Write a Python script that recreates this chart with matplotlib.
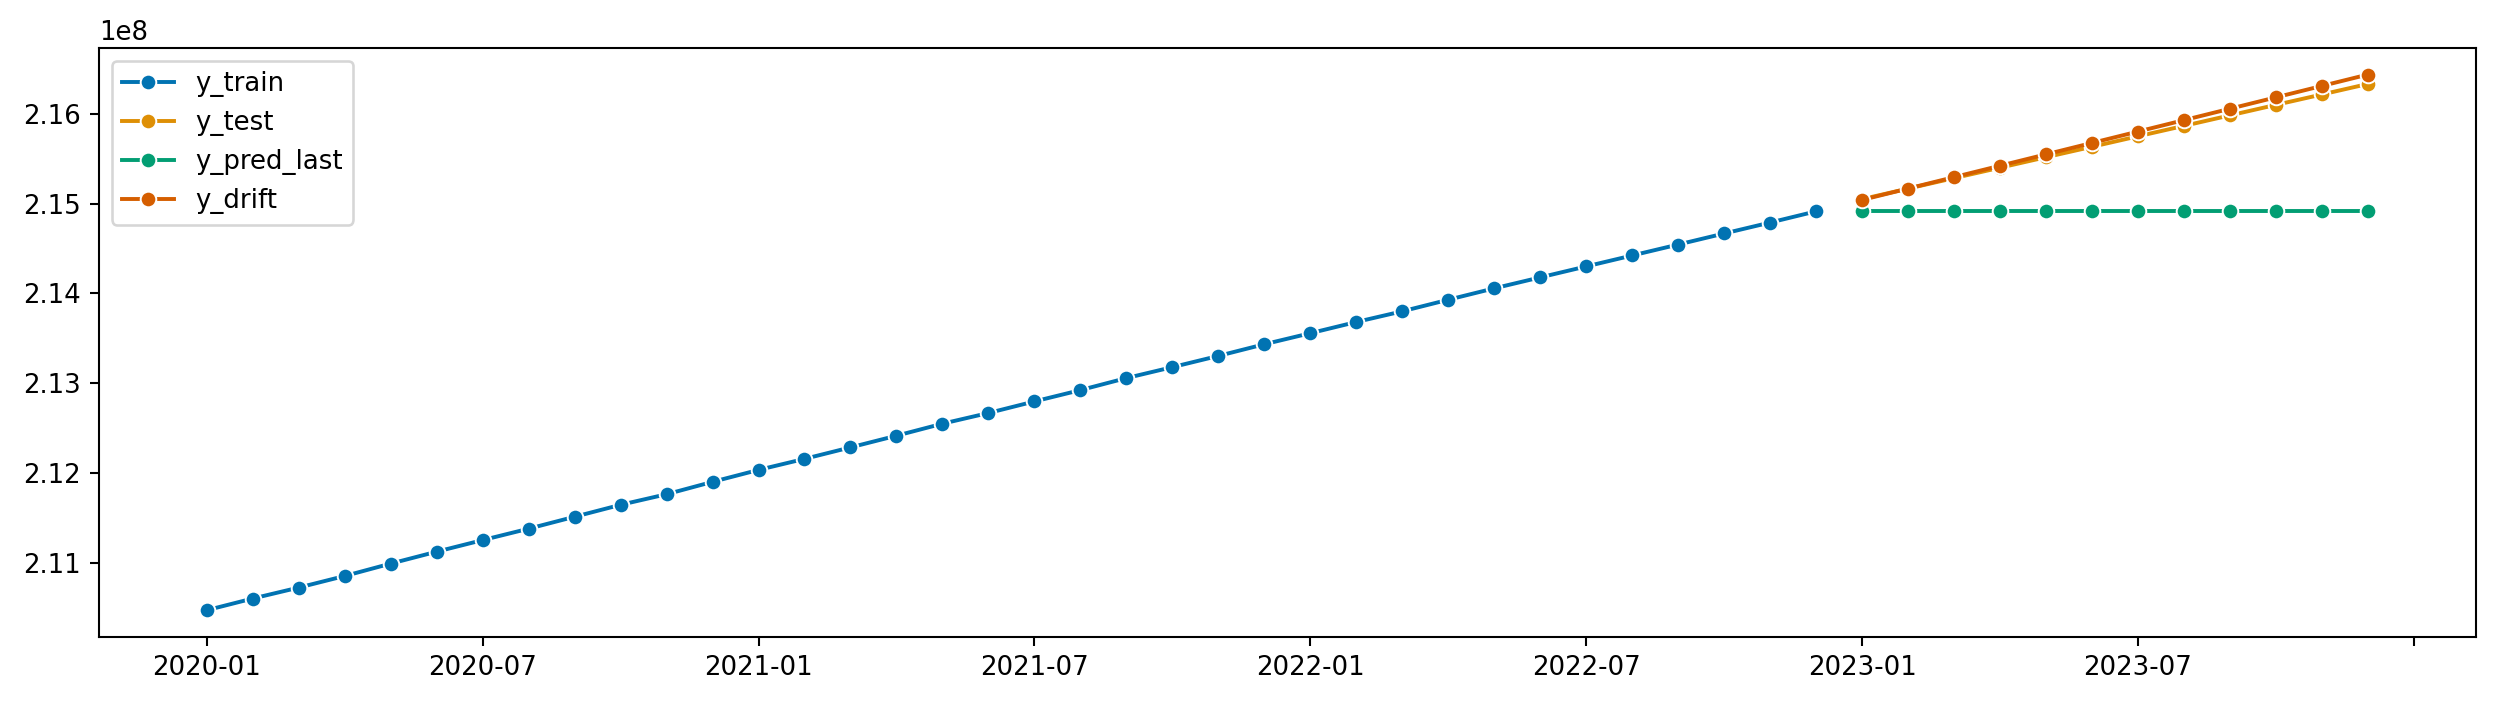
import numpy as np
import pandas as pd
import matplotlib
matplotlib.use("Agg")
import matplotlib.pyplot as plt
from matplotlib.ticker import FuncFormatter, MultipleLocator

# --------------------------
# DATA
# --------------------------
periods = pd.period_range("2020-01", periods=48, freq="M").astype(str).tolist()

y_train = [210470000, 210600000, 210722000, 210851000, 210989000, 211122000,
           211251000, 211378000, 211511000, 211644000, 211762000, 211900000,
           212033000, 212156000, 212284000, 212414000, 212548000, 212667000,
           212796000, 212922000, 213056000, 213178000, 213303000, 213433000,
           213556000, 213681000, 213800000, 213929000, 214056000, 214178000,
           214300000, 214422000, 214544000, 214667000, 214789000, 214914000]

y_test = [215050000, 215167000, 215284000, 215400000, 215517000, 215633000,
          215750000, 215866000, 215983000, 216100000, 216216000, 216333000]

y_pred_last = [214914000] * 12

y_drift = [215041000, 215168000, 215295000, 215422000, 215549000, 215676000,
           215803000, 215930000, 216057000, 216184000, 216311000, 216438000]

# --------------------------
# PLOT
# --------------------------
DPI = 187.2
colors = ["#0173b2", "#de8f05", "#029e73", "#d55e00"]
n_train = len(y_train)
x_train = np.arange(n_train)
x_test = np.arange(n_train, n_train + len(y_test))

series = [
    (x_train, y_train, "y_train"),
    (x_test, y_test, "y_test"),
    (x_test, y_pred_last, "y_pred_last"),
    (x_test, y_drift, "y_drift"),
]

fig, ax = plt.subplots(figsize=(2497 / DPI, 702 / DPI), dpi=DPI)
fig.subplots_adjust(left=0.0395, right=0.9916, top=0.932, bottom=0.0926)

for (x, y, label), c in zip(series, colors):
    ax.plot(x, y, color=c, label=label, linewidth=1.5, marker="o",
            markersize=6, markeredgecolor="w", markeredgewidth=0.75)


def format_fn(tick_val, tick_pos):
    i = int(tick_val)
    if 0 <= i < len(periods) and tick_val == i:
        return periods[i]
    return ""


ax.xaxis.set_major_locator(MultipleLocator(6))
ax.xaxis.set_major_formatter(FuncFormatter(format_fn))
ax.legend(loc="upper left")

fig.savefig("out.png", dpi=DPI)
